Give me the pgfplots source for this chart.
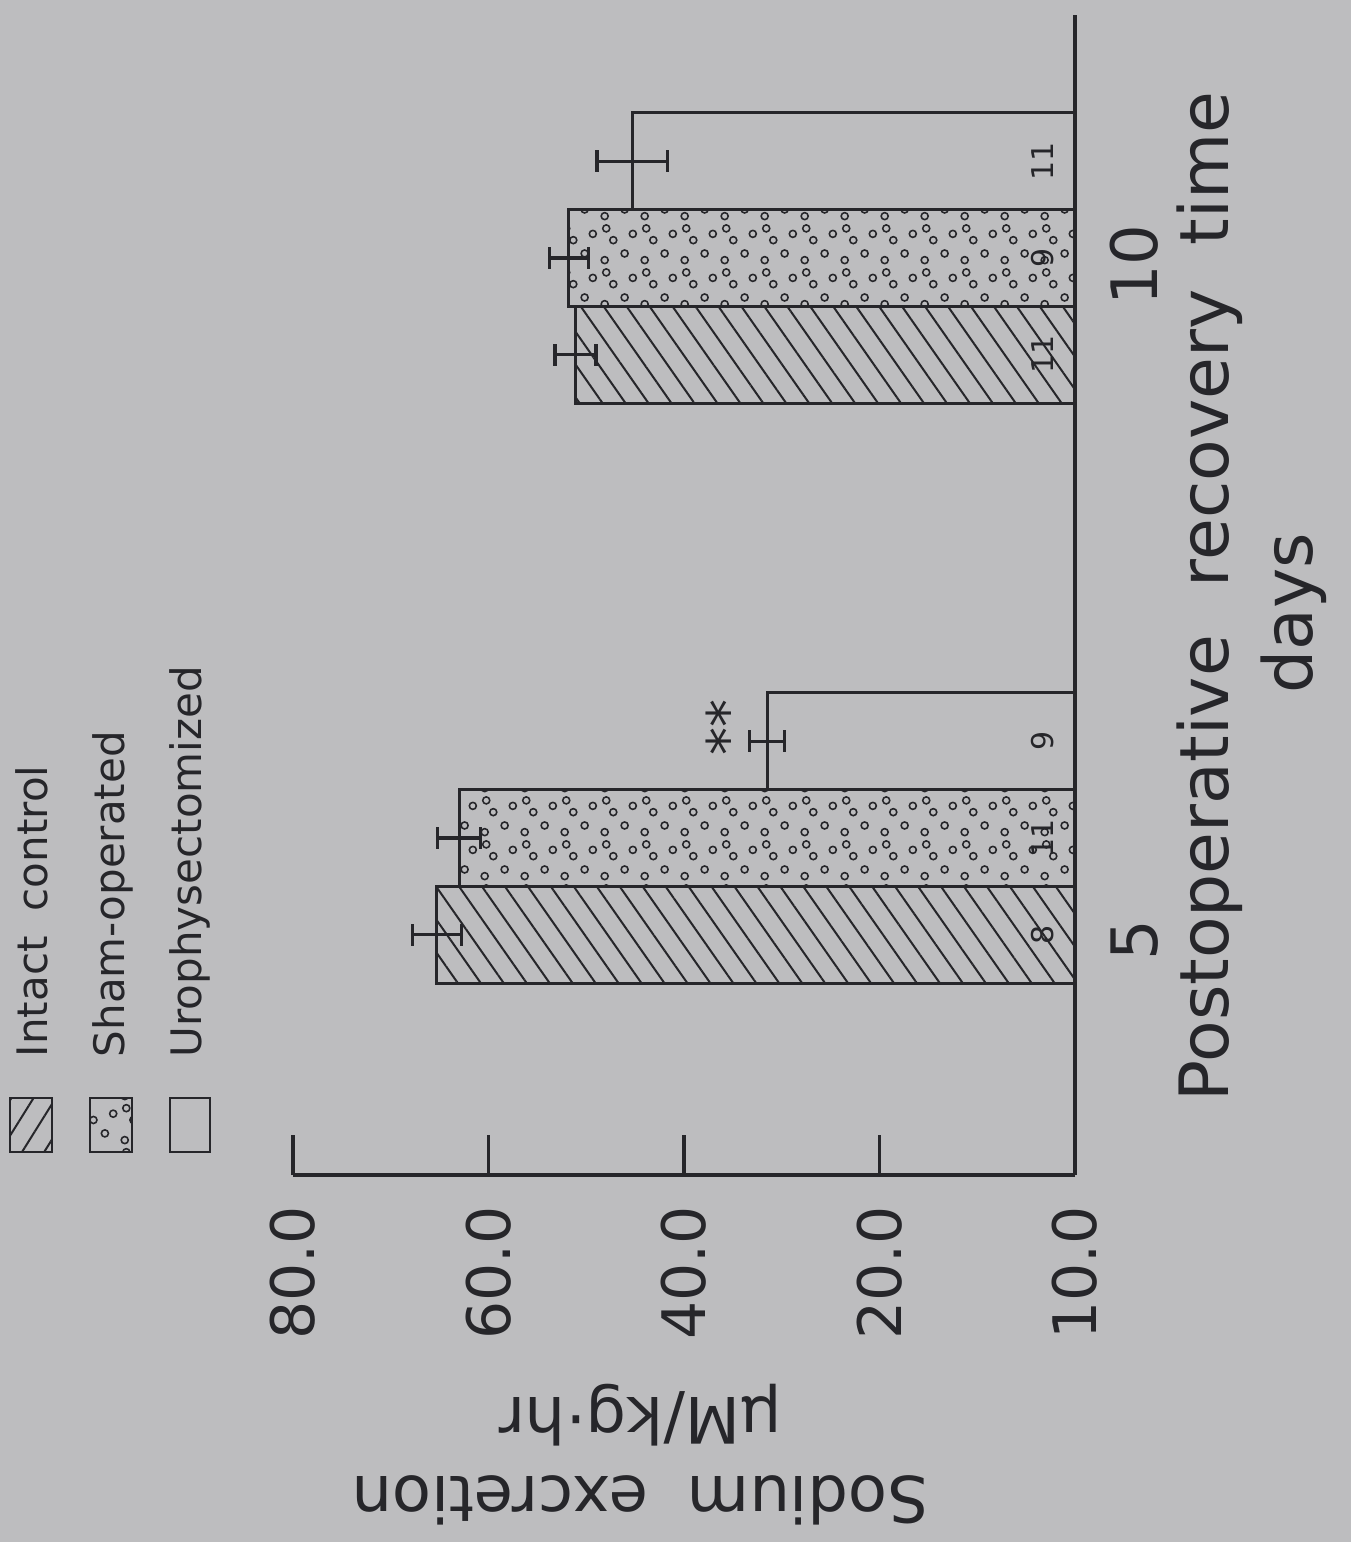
\documentclass[border=0pt]{standalone}
\usepackage{fontspec}
\setmainfont{DejaVu Sans}
\usepackage{pgfplots}
\usepackage{pgfplotstable}
\pgfplotsset{compat=1.18}
\usetikzlibrary{patterns,patterns.meta}
\definecolor{bg}{RGB}{189,189,191}
\definecolor{ink}{RGB}{38,38,42}

\pgfdeclarepatternformonly{hollowdots}{\pgfqpoint{0pt}{0pt}}{\pgfqpoint{10pt}{11pt}}{\pgfqpoint{10pt}{11pt}}{%
  \pgfsetlinewidth{0.4pt}%
  \pgfpathcircle{\pgfqpoint{1.2pt}{1.5pt}}{0.9pt}%
  \pgfpathcircle{\pgfqpoint{6.3pt}{3.2pt}}{0.9pt}%
  \pgfpathcircle{\pgfqpoint{3.4pt}{6.6pt}}{0.9pt}%
  \pgfpathcircle{\pgfqpoint{8.4pt}{8.2pt}}{0.9pt}%
  \pgfpathcircle{\pgfqpoint{1.6pt}{9.6pt}}{0.9pt}%
  \pgfusepath{stroke}%
}

\pgfplotstableread{
d v e
5 65.3 2.5
10 51.1 2.1
}\intact
\pgfplotstableread{
d v e
5 63.0 2.2
10 51.8 2.0
}\sham
\pgfplotstableread{
d v e
5 31.5 1.8
10 45.3 3.6
}\uro

\pgfplotsset{myerr/.style={error bars/.cd, x dir=both, x explicit, error mark=|,
  error bar style={line width=0.8pt, draw=ink, solid},
  error mark options={line width=0.8pt, mark size=2.7pt, draw=ink}}}

\begin{document}
\begin{tikzpicture}
\useasboundingbox (0,0) rectangle (337.75pt,-385.5pt);
\fill[bg] (0,0) rectangle (337.75pt,-385.5pt);

\begin{axis}[
  at={(268.75pt,-293.75pt)}, anchor=south east,
  scale only axis, width=195.5pt, height=290pt,
  xbar, bar width=0.832,
  xmin=0, xmax=80, x dir=reverse,
  ymin=2.095, ymax=12.095,
  axis x line*=bottom, axis y line*=right,
  axis line style={ink, line width=0.8pt},
  xtick={0,20,40,60,80},
  xticklabels={10.0,20.0,40.0,60.0,80.0},
  ytick=\empty,
  tick align=inside, major tick length=10pt,
  x tick style={ink, line width=0.8pt},
  xticklabel style={rotate=90, anchor=east, font=\fontsize{15}{15}\selectfont, text=ink, inner sep=0pt},
  xticklabel shift=7.5pt,
  clip=false,
]
\addplot[draw=ink, line width=0.75pt, pattern={Lines[angle=-55,distance=4.7pt,line width=0.5pt]}, pattern color=ink, bar shift=-0.835, myerr]
  table[x=v, y=d, x error=e]{\intact};
\addplot[draw=ink, line width=0.75pt, pattern=hollowdots, pattern color=ink, bar shift=0, myerr]
  table[x=v, y=d, x error=e]{\sham};
\addplot[draw=ink, line width=0.75pt, fill=none, bar shift=0.835, myerr]
  table[x=v, y=d, x error=e]{\uro};

\begin{scope}[every node/.style={rotate=90, text=ink, font=\fontsize{7.5}{7.5}\selectfont, inner sep=0pt}]
\node at (axis cs:3.3,4.165) {8};
\node at (axis cs:3.3,5.0) {11};
\node at (axis cs:3.3,5.835) {9};
\node at (axis cs:3.3,9.165) {11};
\node at (axis cs:3.3,10.0) {9};
\node at (axis cs:3.3,10.835) {11};
\end{scope}
\node[rotate=90, text=ink, font=\fontsize{14}{14}\selectfont, inner sep=0pt] at (axis cs:35.6,5.95) {**};
\node[rotate=90, text=ink, font=\fontsize{16}{16}\selectfont, inner sep=0pt] at (axis cs:-6.1,4.12) {5};
\node[rotate=90, text=ink, font=\fontsize{16}{16}\selectfont, inner sep=0pt] at (axis cs:-6.1,9.94) {10};
\end{axis}

\begin{scope}[x=0.25pt,y=-0.25pt]
\draw[ink, line width=0.7pt, pattern={Lines[angle=58,distance=4.7pt,line width=0.5pt]}, pattern color=ink] (10,1098) rectangle (52,1152);
\draw[ink, line width=0.7pt, pattern=hollowdots, pattern color=ink] (90,1098) rectangle (132,1152);
\draw[ink, line width=0.7pt] (170,1098) rectangle (210,1152);
\begin{scope}[every node/.style={rotate=90, anchor=base west, inner sep=0pt, text=ink, font=\fontsize{10.5}{10.5}\selectfont}]
\node at (48,1058) {Intact\hspace{0.6em}control};
\node at (124,1058) {Sham-operated};
\node at (201,1058) {Urophysectomized};
\end{scope}
\node[rotate=90, anchor=base west, inner sep=0pt, text=ink, font=\fontsize{17}{17}\selectfont] at (1228,1102) {Postoperative\hspace{12pt}recovery\hspace{11pt}time};
\node[rotate=90, anchor=base, inner sep=0pt, text=ink, font=\fontsize{17}{17}\selectfont] at (1312,613) {days};
\node[rotate=180, anchor=center, inner sep=0pt, text=ink, font=\fontsize{16}{16}\selectfont] at (640,1415) {μM/kg·hr};
\node[rotate=180, anchor=center, inner sep=0pt, text=ink, font=\fontsize{16}{16}\selectfont] at (640,1500) {Sodium\hspace{0.6em}excretion};
\end{scope}
\end{tikzpicture}
\end{document}
